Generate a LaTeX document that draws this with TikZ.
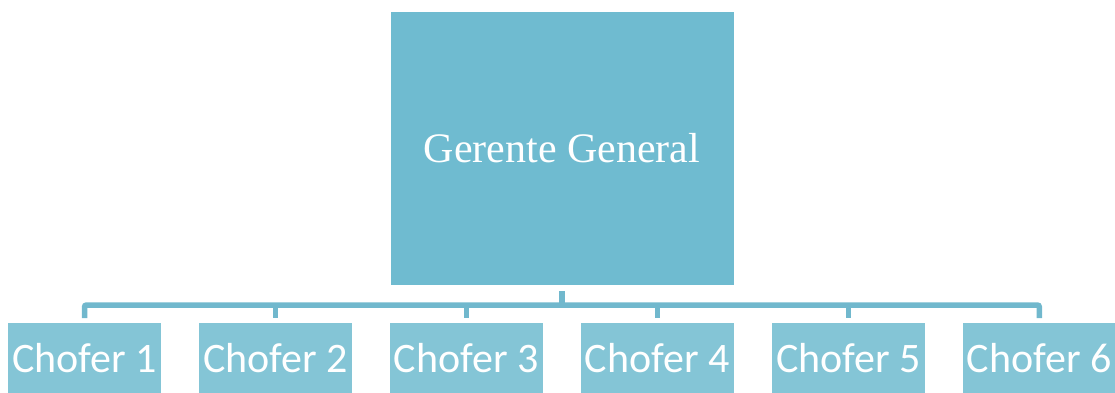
\documentclass[tikz,border=0pt]{standalone}
\usepackage{fontspec}
\setmainfont{Liberation Serif}
\newfontfamily\calfont{Carlito}
\definecolor{topc}{RGB}{111,187,208}
\definecolor{childc}{RGB}{132,197,214}
\definecolor{linec}{RGB}{113,184,205}
\begin{document}
\begin{tikzpicture}[x=1pt,y={(0pt,-1pt)},
  topbox/.style={fill=topc,draw=none,minimum width=343pt,minimum height=273pt,inner sep=0pt,
    text=white,font=\fontsize{42}{50}\selectfont},
  childbox/.style={fill=childc,draw=none,minimum width=152.5pt,minimum height=70pt,inner sep=0pt,
    anchor=north,text=white,font=\calfont\fontsize{42}{50}\selectfont},
  conn/.style={draw=linec,line width=5.5pt}]
\useasboundingbox (0,0) rectangle (1115,392);
\clip (0,0) rectangle (1115,392);
\node[topbox] (top) at (562,148.6) {Gerente General};
\node[childbox] (c1) at (84.5,323) {Chofer 1};
\node[childbox] (c2) at (275.5,323) {Chofer 2};
\node[childbox] (c3) at (466.3,323) {Chofer 3};
\node[childbox] (c4) at (657.3,323) {Chofer 4};
\node[childbox] (c5) at (848.5,323) {Chofer 5};
\node[childbox] (c6) at (1039.3,323) {Chofer 6};
\coordinate (bus) at (562,305);
\draw[conn] ([yshift=-5.7pt]top.south) -- (bus);
\draw[conn,rounded corners=2pt] ([yshift=5pt]c1.north) -- (c1.north |- bus) -- (c6.north |- bus) -- ([yshift=5pt]c6.north);
\foreach \n in {c2,c3,c4,c5}{
  \draw[conn] (\n.north |- bus) -- ([yshift=5pt]\n.north);
}
\end{tikzpicture}
\end{document}
